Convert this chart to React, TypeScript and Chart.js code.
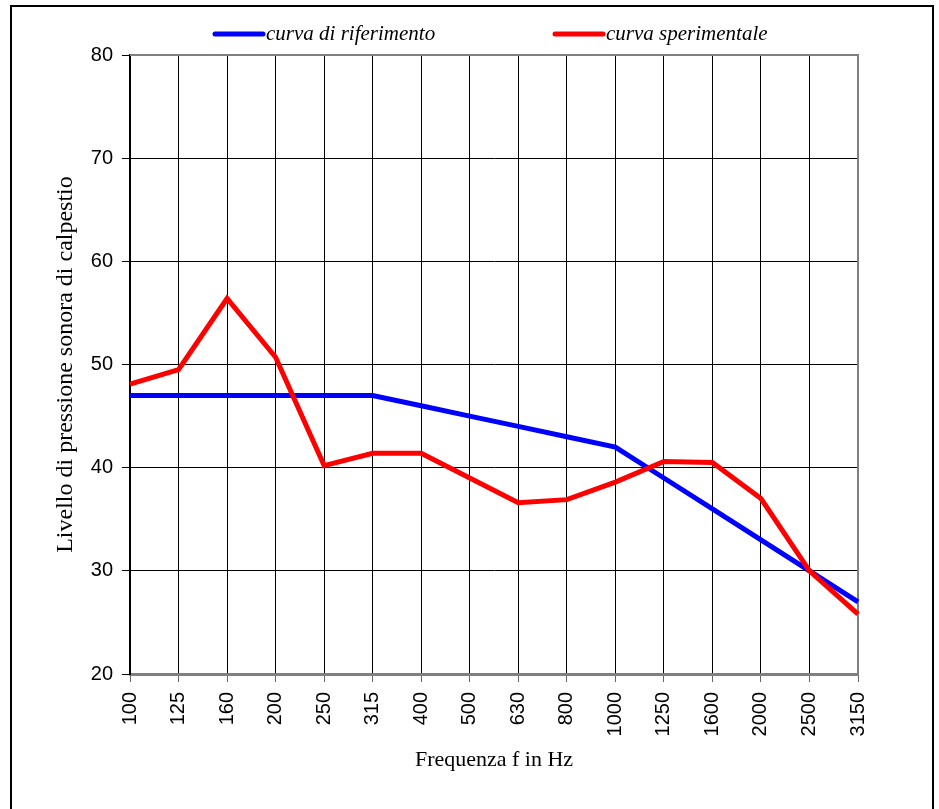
import React, { useEffect, useRef } from "react";
import { Chart, registerables } from "chart.js";

Chart.register(...registerables);

const frequencies = ["100", "125", "160", "200", "250", "315", "400", "500", "630", "800", "1000", "1250", "1600", "2000", "2500", "3150"];
const referenceCurve = [47, 47, 47, 47, 47, 47, 46, 45, 44, 43, 42, 39, 36, 33, 30, 27];
const experimentalCurve = [48.1, 49.5, 56.4, 50.7, 40.2, 41.4, 41.4, 39.0, 36.6, 36.9, 38.6, 40.6, 40.5, 37.0, 30.0, 25.8];
const seriesLabels = ["curva di riferimento", "curva sperimentale"];
const seriesColors = ["#0000FF", "#FF0000"];
const yMin = 20;
const yMax = 80;
const yStep = 10;
const xTitle = "Frequenza f in Hz";
const yTitle = "Livello di pressione sonora di calpestio";

const SERIF = "'Liberation Serif', 'Times New Roman', serif";
const SANS = "'Liberation Sans', Arial, sans-serif";

const framePlugin = {
  id: "frame",
  beforeDatasetsDraw(chart: any) {
    const { ctx, chartArea } = chart;
    ctx.save();
    ctx.strokeStyle = "#808080";
    ctx.lineWidth = 2;
    ctx.beginPath();
    ctx.moveTo(chartArea.left, chartArea.top);
    ctx.lineTo(chartArea.right, chartArea.top);
    ctx.lineTo(chartArea.right, chartArea.bottom);
    ctx.stroke();
    ctx.restore();
  },
  afterDraw(chart: any) {
    const { ctx } = chart;
    ctx.save();
    ctx.strokeStyle = "#000";
    ctx.lineWidth = 2;
    ctx.strokeRect(11, 6, 922, 820);
    // legend
    const items = [
      { x: 213, textX: 266 },
      { x: 553, textX: 606 },
    ];
    const y = 34;
    chart.data.datasets.forEach((ds: any, i: number) => {
      const it = items[i];
      ctx.strokeStyle = ds.borderColor;
      ctx.lineWidth = 5;
      ctx.lineCap = "round";
      ctx.beginPath();
      ctx.moveTo(it.x + 2, y);
      ctx.lineTo(it.x + 50, y);
      ctx.stroke();
      ctx.fillStyle = "#000";
      ctx.font = `italic 21px ${SERIF}`;
      ctx.textBaseline = "middle";
      ctx.textAlign = "left";
      ctx.fillText(ds.label, it.textX, y);
    });
    ctx.restore();
  },
};

export default function App() {
  const canvasRef = useRef<HTMLCanvasElement>(null);

  useEffect(() => {
    if (!canvasRef.current) return;
    const chart = new Chart(canvasRef.current, {
      type: "line",
      data: {
        labels: frequencies,
        datasets: [
          {
            label: seriesLabels[0],
            data: referenceCurve,
            borderColor: seriesColors[0],
            backgroundColor: seriesColors[0],
            borderWidth: 5,
            pointRadius: 0,
            tension: 0,
            order: 1,
          },
          {
            label: seriesLabels[1],
            data: experimentalCurve,
            borderColor: seriesColors[1],
            backgroundColor: seriesColors[1],
            borderWidth: 5,
            pointRadius: 0,
            tension: 0,
            order: 0,
          },
        ],
      },
      options: {
        animation: false,
        responsive: false,
        devicePixelRatio: 1,
        layout: { padding: { left: 0, right: 81, top: 55, bottom: 0 } },
        plugins: {
          legend: { display: false },
          tooltip: { enabled: false },
        },
        scales: {
          x: {
            type: "category",
            offset: false,
            afterFit: (scale: any) => {
              scale.height = 135;
            },
            grid: {
              color: "#000",
              lineWidth: 1,
              tickLength: 8,
              tickColor: "#666",
              offset: false,
            },
            border: { display: true, color: "#808080", width: 3 },
            ticks: {
              autoSkip: false,
              minRotation: 90,
              maxRotation: 90,
              padding: 10,
              color: "#000",
              font: { family: SANS, size: 20 },
            },
            title: {
              display: true,
              text: xTitle,
              color: "#000",
              font: { family: SERIF, size: 22 },
              padding: { top: 0, bottom: 36 },
            },
          },
          y: {
            min: yMin,
            max: yMax,
            afterFit: (scale: any) => {
              scale.width = 130;
            },
            grid: {
              color: "#000",
              lineWidth: 1,
              tickLength: 8,
              tickColor: "#000",
            },
            border: { display: true, color: "#000", width: 2 },
            ticks: {
              stepSize: yStep,
              padding: 9,
              color: "#000",
              font: { family: SANS, size: 20 },
            },
            title: {
              display: true,
              text: yTitle,
              color: "#000",
              font: { family: SERIF, size: 24 },
              padding: { top: 51, bottom: 0 },
            },
          },
        },
      },
      plugins: [framePlugin],
    } as any);
    return () => chart.destroy();
  }, []);

  return (
    <div style={{ position: "absolute", left: 0, top: 0, width: 939, height: 809, background: "#fff" }}>
      <canvas ref={canvasRef} width={939} height={809} />
    </div>
  );
}
